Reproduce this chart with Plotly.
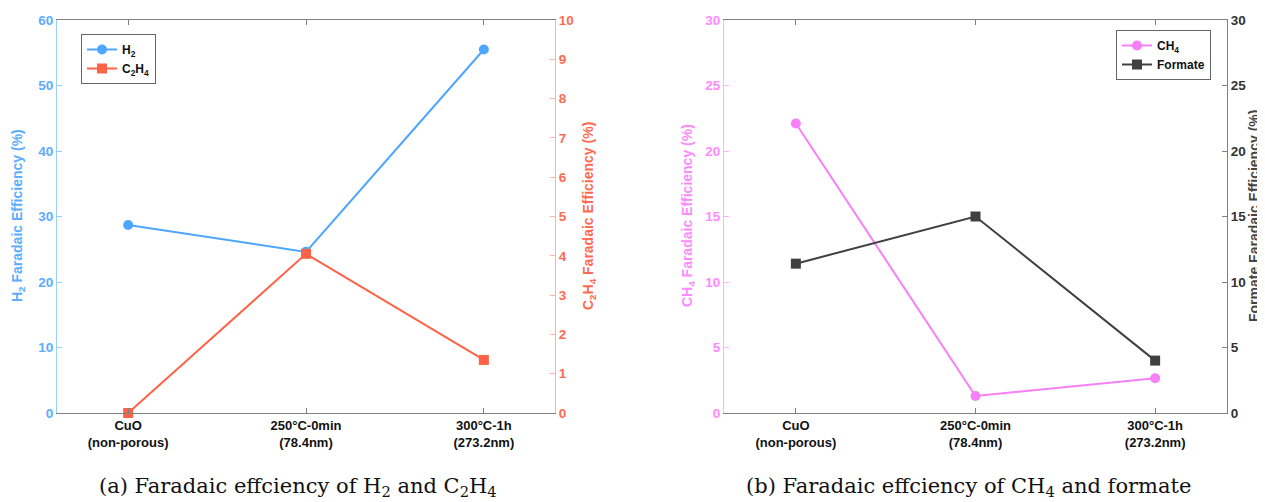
import plotly.graph_objects as go

categories = ["CuO<br>(non-porous)", "250°C-0min<br>(78.4nm)", "300°C-1h<br>(273.2nm)"]
cat_pos = [1, 2, 3]
h2_fe = [28.7, 24.6, 55.5]
c2h4_fe = [0.0, 4.05, 1.35]
ch4_fe = [22.1, 1.3, 2.65]
formate_fe = [11.4, 15.0, 4.0]

left_ticks = [0, 10, 20, 30, 40, 50, 60]
c2h4_ticks = list(range(0, 11))
b_ticks = [0, 5, 10, 15, 20, 25, 30]

# page body has an 8px default margin; the figure is sized to fill the rest
OFF = 8
W, H = 1265 - OFF, 502 - OFF
BLUE = "#4da6ff"
BLUE_T = "#5aadff"
BLUE_L = "#9ccfff"
TOM = "#ff6347"
TOM_T = "#ff6a50"
TOM_L = "#ffb3a6"
PINK = "#f77ff7"
PINK_T = "#ff8aff"
PINK_L = "#ffb3ff"
DARK = "#404040"
GRAY = "#808080"
FONT = "Liberation Sans"

def px_x(p):
    return (p - OFF) / W

def px_y(p):
    return 1 - (p - OFF) / H

fig = go.Figure()
fig.add_trace(go.Scatter(x=cat_pos, y=h2_fe, name="<b>H<sub>2</sub></b>", mode="lines+markers",
                         line=dict(color=BLUE, width=2), marker=dict(symbol="circle", size=10, color=BLUE),
                         xaxis="x", yaxis="y", legend="legend", cliponaxis=False))
fig.add_trace(go.Scatter(x=cat_pos, y=c2h4_fe, name="<b>C<sub>2</sub>H<sub>4</sub></b>", mode="lines+markers",
                         line=dict(color=TOM, width=2), marker=dict(symbol="square", size=10, color=TOM),
                         xaxis="x", yaxis="y2", legend="legend", cliponaxis=False))
fig.add_trace(go.Scatter(x=cat_pos, y=ch4_fe, name="<b>CH<sub>4</sub></b>", mode="lines+markers",
                         line=dict(color=PINK, width=2), marker=dict(symbol="circle", size=10, color=PINK),
                         xaxis="x2", yaxis="y3", legend="legend2", cliponaxis=False))
fig.add_trace(go.Scatter(x=cat_pos, y=formate_fe, name="<b>Formate</b>", mode="lines+markers",
                         line=dict(color=DARK, width=2), marker=dict(symbol="square", size=10, color=DARK),
                         xaxis="x2", yaxis="y4", legend="legend2", cliponaxis=False))

ydom = [px_y(413), px_y(20)]
xd1 = [px_x(57), px_x(555)]
xd2 = [px_x(724), px_x(1227)]

xcommon = dict(range=[0.6, 3.4], tickmode="array", tickvals=cat_pos, ticktext=categories,
               ticks="inside", ticklen=5, tickcolor=GRAY, showline=True, linecolor=GRAY, linewidth=1,
               mirror="ticks", showgrid=False, zeroline=False, automargin=False,
               tickfont=dict(family=FONT, size=13, color="#111", weight="bold"))
ycommon = dict(ticks="inside", ticklen=5, showline=True, showgrid=False, zeroline=False, automargin=False)

fig.update_layout(
    width=W, height=H, margin=dict(l=0, r=0, t=0, b=0, autoexpand=False),
    paper_bgcolor="white", plot_bgcolor="white",
    showlegend=True,
    xaxis=dict(domain=xd1, anchor="y", **xcommon),
    xaxis2=dict(domain=xd2, anchor="y3", **xcommon),
    yaxis=dict(domain=ydom, anchor="x", range=[0, 60], tickvals=left_ticks,
               tickcolor=BLUE_L, linecolor=BLUE_L, **ycommon,
               tickfont=dict(family=FONT, size=13.5, color=BLUE_T, weight="bold")),
    yaxis2=dict(overlaying="y", side="right", anchor="x", range=[0, 10], tickvals=c2h4_ticks,
                tickcolor=TOM_L, linecolor=TOM_L, **ycommon,
                tickfont=dict(family=FONT, size=13.5, color=TOM_T, weight="bold")),
    yaxis3=dict(domain=ydom, anchor="x2", range=[0, 30], tickvals=b_ticks,
                tickcolor=PINK_L, linecolor=PINK_L, **ycommon,
                tickfont=dict(family=FONT, size=13.5, color=PINK_T, weight="bold")),
    yaxis4=dict(overlaying="y3", side="right", anchor="x2", range=[0, 30], tickvals=b_ticks,
                tickcolor=GRAY, linecolor=GRAY, **ycommon,
                tickfont=dict(family=FONT, size=13.5, color="#333", weight="bold")),
    legend=dict(x=px_x(81), y=px_y(34), xanchor="left", yanchor="top", bordercolor="#666", borderwidth=1,
                bgcolor="white", font=dict(family=FONT, size=12, color="#111"), tracegroupgap=0,
                itemwidth=30),
    legend2=dict(x=px_x(1211), y=px_y(30), xanchor="right", yanchor="top", bordercolor="#666", borderwidth=1,
                 bgcolor="white", font=dict(family=FONT, size=12, color="#111"), tracegroupgap=0,
                 itemwidth=30),
)

title_font = dict(family=FONT, size=14, weight="bold")
anns = [
    dict(x=px_x(18), y=px_y(216), text="H<sub>2</sub> Faradaic Efficiency (%)", color=BLUE_T),
    dict(x=px_x(589), y=px_y(216), text="C<sub>2</sub>H<sub>4</sub> Faradaic Efficiency (%)", color=TOM_T),
    dict(x=px_x(688), y=px_y(216), text="CH<sub>4</sub> Faradaic Efficiency (%)", color=PINK_T),
    dict(x=px_x(1254), y=px_y(216), text="Formate Faradaic Efficiency (%)", color="#444"),
]
for a in anns:
    fig.add_annotation(x=a["x"], y=a["y"], xref="paper", yref="paper", text=a["text"], showarrow=False,
                       xanchor="center", yanchor="middle", borderpad=0,
                       textangle=-90, font=dict(color=a["color"], **title_font))

cap_font = dict(family="DejaVu Serif", size=21, color="#111")
fig.add_annotation(x=px_x(298), y=px_y(487), xref="paper", yref="paper", showarrow=False,
                   xanchor="center", yanchor="middle",
                   text="(a) Faradaic effciency of H<sub>2</sub> and C<sub>2</sub>H<sub>4</sub>", font=cap_font)
fig.add_annotation(x=px_x(968), y=px_y(487), xref="paper", yref="paper", showarrow=False,
                   xanchor="center", yanchor="middle",
                   text="(b) Faradaic effciency of CH<sub>4</sub> and formate", font=cap_font)

fig.write_html("out.html")
